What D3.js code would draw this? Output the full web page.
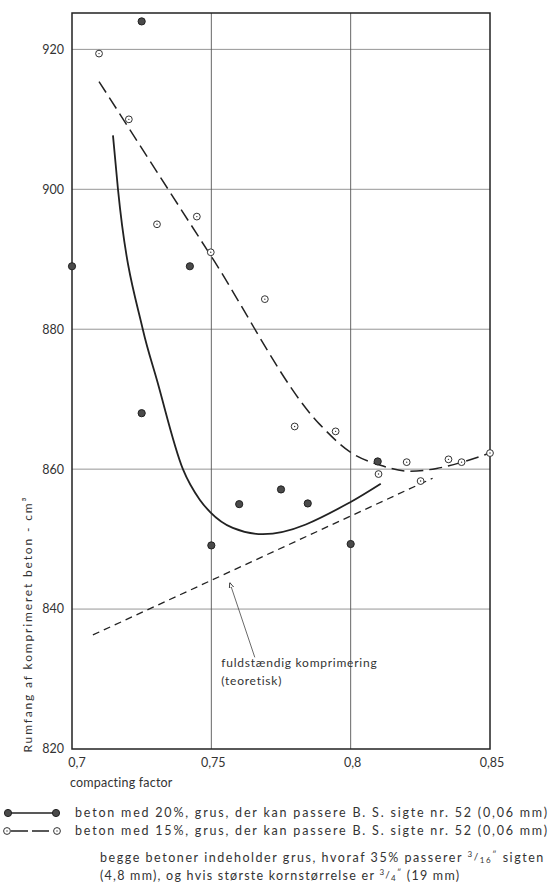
<!DOCTYPE html>
<html>
<head>
<meta charset="utf-8">
<script src="https://cdn.jsdelivr.net/npm/d3@7"></script>
<style>
  body { margin: 0; background: #fff; }
  text { font-family: Lato, "Open Sans", sans-serif; fill: #333; }
</style>
</head>
<body>
<div id="chart"></div>
<script>
let margin = { top: 13, right: 59, bottom: 147, left: 72 }
let dims = { width: 549, height: 896 }

const xTicks = [0.7, 0.75, 0.8, 0.85]
const xTickLabels = ["0,7", "0,75", "0,8", "0,85"]
const yTicks = [820, 840, 860, 880, 900, 920]

// beton med 20% (filled markers)
const beton20Factor = [0.7, 0.725, 0.7423, 0.725, 0.76, 0.75, 0.775, 0.7846, 0.8, 0.8097]
const beton20Volume = [889, 924, 889, 868, 855, 849.1, 857.1, 855.1, 849.3, 861.1]
// beton med 15% (open markers)
const beton15Factor = [0.7097, 0.7204, 0.7305, 0.7448, 0.7498, 0.7692, 0.7799, 0.7946, 0.81, 0.8201, 0.8251, 0.8351, 0.8398, 0.85]
const beton15Volume = [919.4, 910, 895, 896.1, 891, 884.3, 866.1, 865.4, 859.3, 861, 858.3, 861.4, 861, 862.3]

// fitted curves
const curve20Factor = [0.7147, 0.7165, 0.7254, 0.7305, 0.7398, 0.7459, 0.7495, 0.7577, 0.7685, 0.8, 0.8108]
const curve20Volume = [907.7, 900, 880, 872.7, 860, 855.6, 853.9, 851.6, 850.7, 855.3, 857.9]
const curve15Factor = [0.7097, 0.75, 0.7889, 0.8, 0.8104, 0.8211, 0.8308, 0.84, 0.85]
const curve15Volume = [915.4, 890.4, 866.4, 862.4, 860.6, 859.7, 860.1, 861, 862.3]

// fuldstændig komprimering (teoretisk)
const theoryFactor = [0.7075, 0.8294]
const theoryVolume = [836.3, 858.7]
const arrowFactor = [0.7656, 0.7566]
const arrowVolume = [833.1, 843.8]

const svg = d3.select("#chart")
  .append("svg")
  .attr("width", dims.width)
  .attr("height", dims.height)

let x = d3.scaleLinear()
  .domain([0.7, 0.85])
  .range([margin.left, dims.width - margin.right])
let y = d3.scaleLinear()
  .domain([820, 925.2])
  .range([dims.height - margin.bottom, margin.top])

svg.append("defs").append("marker")
  .attr("id", "arrow")
  .attr("viewBox", "0 0 10 10")
  .attr("refX", 10).attr("refY", 5)
  .attr("markerWidth", 7).attr("markerHeight", 7)
  .attr("orient", "auto")
  .append("path")
  .attr("d", "M0,1 L10,5 L0,9 Z")
  .attr("fill", "#fff")
  .attr("stroke", "#333")
  .attr("stroke-width", 1.5)

// grid
svg.append("g")
  .selectAll("line")
  .data(yTicks.slice(1))
  .join("line")
  .attr("x1", x(0.7)).attr("x2", x(0.85))
  .attr("y1", d => y(d)).attr("y2", d => y(d))
  .attr("stroke", "#8a8a8a")
  .attr("stroke-width", 0.9)
svg.append("g")
  .selectAll("line")
  .data([0.75, 0.8])
  .join("line")
  .attr("x1", d => x(d)).attr("x2", d => x(d))
  .attr("y1", y(925.2)).attr("y2", y(820))
  .attr("stroke", "#555")
  .attr("stroke-width", 0.9)

svg.append("rect")
  .attr("x", x(0.7))
  .attr("y", y(925.2))
  .attr("width", x(0.85) - x(0.7))
  .attr("height", y(820) - y(925.2))
  .attr("fill", "none")
  .attr("stroke", "#222")
  .attr("stroke-width", 1.5)

// tick labels
svg.append("g")
  .selectAll("text")
  .data(yTicks)
  .join("text")
  .attr("x", x(0.7) - 8)
  .attr("y", d => y(d))
  .attr("dy", "0.35em")
  .attr("text-anchor", "end")
  .attr("font-size", 12.5)
  .text(d => d)
svg.append("g")
  .selectAll("text")
  .data(xTicks)
  .join("text")
  .attr("x", (d, i) => x(d) + (i == 0 ? 5 : 2))
  .attr("y", y(820) + 18)
  .attr("text-anchor", "middle")
  .attr("font-size", 12.5)
  .text((d, i) => xTickLabels[i])

svg.append("text")
  .attr("x", 70)
  .attr("y", 787)
  .attr("font-size", 12.5)
  .attr("letter-spacing", 0.2)
  .text("compacting factor")

svg.append("text")
  .attr("transform", "translate(32, 625) rotate(-90)")
  .attr("text-anchor", "middle")
  .attr("font-size", 12)
  .attr("textLength", 255)
  .attr("lengthAdjust", "spacing")
  .text("Rumfang af komprimeret beton - cm³")

// lines
let line = d3.line()
  .x(d => x(d[0]))
  .y(d => y(d[1]))
  .curve(d3.curveMonotoneX)

svg.append("path")
  .datum(curve20Factor.map((f, i) => [f, curve20Volume[i]]))
  .attr("d", line)
  .attr("fill", "none")
  .attr("stroke", "#222")
  .attr("stroke-width", 1.8)
svg.append("path")
  .datum(curve15Factor.map((f, i) => [f, curve15Volume[i]]))
  .attr("d", line)
  .attr("fill", "none")
  .attr("stroke", "#222")
  .attr("stroke-width", 1.5)
  .attr("stroke-dasharray", "13,6")
svg.append("path")
  .datum(theoryFactor.map((f, i) => [f, theoryVolume[i]]))
  .attr("d", d3.line().x(d => x(d[0])).y(d => y(d[1])))
  .attr("fill", "none")
  .attr("stroke", "#222")
  .attr("stroke-width", 1.3)
  .attr("stroke-dasharray", "7,5")

svg.append("line")
  .attr("x1", x(arrowFactor[0])).attr("y1", y(arrowVolume[0]))
  .attr("x2", x(arrowFactor[1])).attr("y2", y(arrowVolume[1]))
  .attr("stroke", "#444")
  .attr("stroke-width", 0.8)
  .attr("marker-end", "url(#arrow)")

let note = svg.append("text")
  .attr("font-size", 12)
  .attr("letter-spacing", 0.75)
note.append("tspan")
  .attr("x", x(0.7536)).attr("y", y(831.7))
  .text("fuldstændig komprimering")
note.append("tspan")
  .attr("x", x(0.7536)).attr("y", y(831.7) + 18)
  .text("(teoretisk)")

function filledMark(sel) {
  sel.append("circle")
    .attr("r", 3.6)
    .attr("fill", "#4a4a4a")
    .attr("stroke", "#222")
    .attr("stroke-width", 1)
}
function openMark(sel) {
  sel.append("circle")
    .attr("r", 3.4)
    .attr("fill", "#fff")
    .attr("stroke", "#333")
    .attr("stroke-width", 1)
  sel.append("circle")
    .attr("r", 0.7)
    .attr("fill", "#333")
}

svg.append("g")
  .selectAll("g")
  .data(beton15Factor.map((f, i) => [f, beton15Volume[i]]))
  .join("g")
  .attr("transform", d => `translate(${x(d[0])},${y(d[1])})`)
  .call(openMark)
svg.append("g")
  .selectAll("g")
  .data(beton20Factor.map((f, i) => [f, beton20Volume[i]]))
  .join("g")
  .attr("transform", d => `translate(${x(d[0])},${y(d[1])})`)
  .call(filledMark)

// legend
let legend = svg.append("g")
legend.append("line")
  .attr("x1", 8).attr("x2", 56).attr("y1", 813).attr("y2", 813)
  .attr("stroke", "#222").attr("stroke-width", 1.5)
legend.append("g").attr("transform", "translate(8,813)").call(filledMark)
legend.append("g").attr("transform", "translate(56,813)").call(filledMark)
legend.append("line")
  .attr("x1", 11).attr("x2", 53).attr("y1", 831).attr("y2", 831)
  .attr("stroke", "#222").attr("stroke-width", 1.3)
  .attr("stroke-dasharray", "17,4")
legend.append("g").attr("transform", "translate(7,831)").call(openMark)
legend.append("g").attr("transform", "translate(57,831)").call(openMark)

legend.append("text")
  .attr("x", 75).attr("y", 817)
  .attr("font-size", 12.5)
  .attr("textLength", 472)
  .attr("lengthAdjust", "spacing")
  .text("beton med 20%, grus, der kan passere B. S. sigte nr. 52 (0,06 mm)")
legend.append("text")
  .attr("x", 75).attr("y", 835)
  .attr("font-size", 12.5)
  .attr("textLength", 472)
  .attr("lengthAdjust", "spacing")
  .text("beton med 15%, grus, der kan passere B. S. sigte nr. 52 (0,06 mm)")

let note1 = legend.append("text")
  .attr("x", 100).attr("y", 862)
  .attr("font-size", 12.5)
  .attr("letter-spacing", 1.55)
note1.append("tspan").text("begge betoner indeholder grus, hvoraf 35% passerer ")
note1.append("tspan").attr("font-size", 8).attr("dy", -5).text("3")
note1.append("tspan").attr("font-size", 10).attr("dy", 3).text("/")
note1.append("tspan").attr("font-size", 8).attr("dy", 3).text("16")
note1.append("tspan").attr("font-size", 8).attr("dy", -6).text("\u2033")
note1.append("tspan").attr("dy", 5).text(" sigten")

let note2 = legend.append("text")
  .attr("x", 100).attr("y", 880)
  .attr("font-size", 12.5)
  .attr("letter-spacing", 1.25)
note2.append("tspan").text("(4,8 mm), og hvis største kornstørrelse er ")
note2.append("tspan").attr("font-size", 8).attr("dy", -5).text("3")
note2.append("tspan").attr("font-size", 10).attr("dy", 3).text("/")
note2.append("tspan").attr("font-size", 8).attr("dy", 3).text("4")
note2.append("tspan").attr("font-size", 8).attr("dy", -6).text("\u2033")
note2.append("tspan").attr("dy", 5).text(" (19 mm)")
</script>
</body>
</html>
